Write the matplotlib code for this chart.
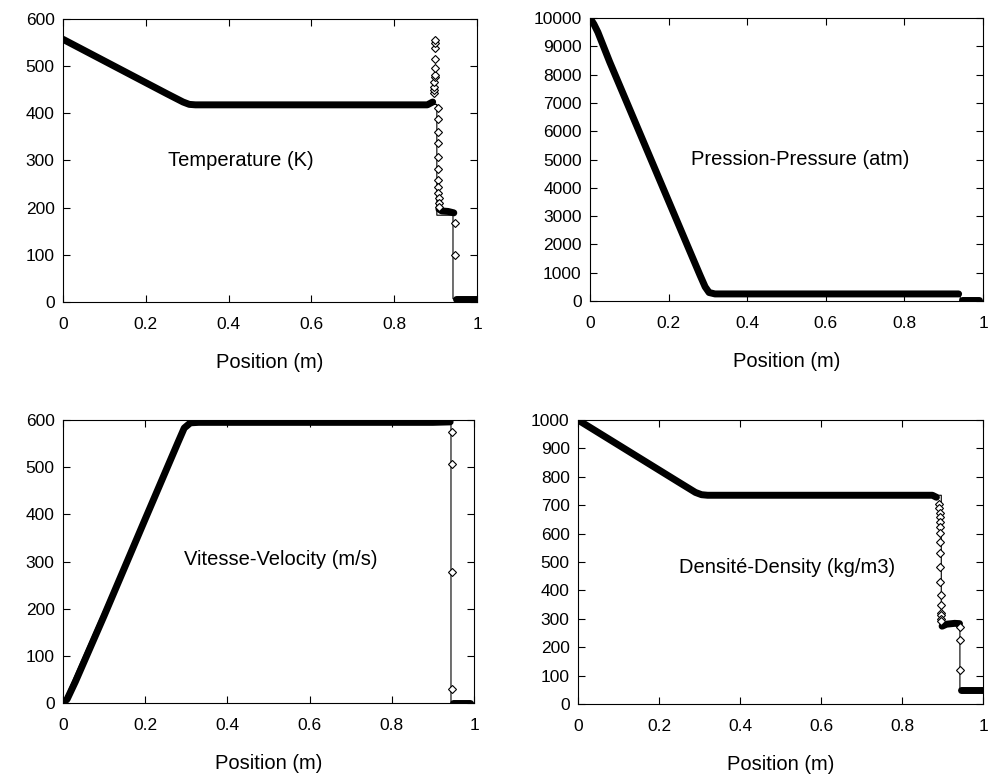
import matplotlib
matplotlib.use("Agg")
import matplotlib.pyplot as plt

plt.rcParams['font.family'] = ['Liberation Sans', 'DejaVu Sans']

# ---------------- Temperature (K) ----------------
T_exact_x = [0.0, 0.30, 0.903, 0.903, 0.942, 0.942, 1.0]
T_exact_y = [557, 419, 419, 184, 184, 7, 7]
T_band1_x = [0.0, 0.05, 0.10, 0.15, 0.20, 0.25, 0.29, 0.305, 0.32, 0.50, 0.70, 0.88, 0.893]
T_band1_y = [557, 534, 511, 488, 465, 442, 424, 419, 418, 418, 418, 418, 424]
T_band2_x = [0.908, 0.915, 0.93, 0.944]
T_band2_y = [197, 193, 192, 189]
T_band3_x = [0.949, 0.97, 1.0]
T_band3_y = [7, 7, 7]
T_mk_x = [0.896, 0.896, 0.897, 0.897, 0.898, 0.898, 0.898, 0.899, 0.899, 0.899, 0.899,
          0.905, 0.905, 0.906, 0.906, 0.906, 0.907, 0.907, 0.907, 0.907, 0.908, 0.908, 0.908,
          0.947, 0.947]
T_mk_y = [443, 449, 456, 466, 477, 481, 496, 515, 538, 549, 555,
          411, 388, 360, 337, 307, 282, 259, 244, 231, 220, 210, 201,
          167, 100]

# ---------------- Pressure (atm) ----------------
P_exact_x = [0.0, 0.05, 0.10, 0.15, 0.20, 0.25, 0.28, 0.30, 0.942, 0.942, 1.0]
P_exact_y = [10000, 8450, 6810, 5170, 3530, 1890, 910, 250, 250, 5, 5]
P_band1_x = [0.0, 0.01, 0.02, 0.05, 0.10, 0.15, 0.20, 0.25, 0.28, 0.293, 0.303, 0.318, 0.5, 0.7, 0.9, 0.938]
P_band1_y = [10000, 9780, 9500, 8450, 6810, 5170, 3530, 1890, 910, 500, 300, 250, 250, 250, 250, 250]
P_band2_x = [0.946, 0.97, 0.99]
P_band2_y = [30, 30, 30]

# ---------------- Velocity (m/s) ----------------
V_exact_x = [0.0, 0.30, 0.944, 0.944, 1.0]
V_exact_y = [0, 593, 593, 0, 0]
V_band1_x = [0.0, 0.01, 0.03, 0.10, 0.20, 0.28, 0.295, 0.31, 0.33, 0.6, 0.9, 0.942]
V_band1_y = [0, 8, 45, 185, 390, 553, 583, 594, 595, 595, 595, 596]
V_band2_x = [0.949, 0.97, 0.99]
V_band2_y = [0, 0, 0]
V_mk_x = [0.946, 0.946, 0.946, 0.946]
V_mk_y = [574, 507, 278, 30]

# ---------------- Density (kg/m3) ----------------
D_exact_x = [0.0, 0.30, 0.897, 0.897, 0.943, 0.943, 1.0]
D_exact_y = [1000, 735, 735, 280, 280, 50, 50]
D_band1_x = [0.0, 0.05, 0.10, 0.15, 0.20, 0.25, 0.29, 0.305, 0.32, 0.6, 0.875, 0.885]
D_band1_y = [1000, 956, 912, 868, 824, 780, 745, 737, 735, 735, 735, 728]
D_band2_x = [0.899, 0.91, 0.93, 0.942]
D_band2_y = [274, 281, 284, 283]
D_band3_x = [0.946, 0.97, 1.0]
D_band3_y = [50, 50, 50]
D_mk_x = [0.892, 0.892, 0.893, 0.893, 0.893, 0.894, 0.894, 0.894, 0.895, 0.895, 0.895,
          0.896, 0.896, 0.896, 0.897, 0.897, 0.897, 0.943, 0.943, 0.943]
D_mk_y = [704, 690, 672, 658, 641, 623, 602, 570, 531, 482, 429,
          383, 347, 322, 312, 301, 294, 270, 224, 118]

panels = [
    dict(pos=[63/988, 1-302/775, 414/988, 283/775], ylim=(0, 600), yticks=range(0, 601, 100),
         exact=(T_exact_x, T_exact_y), bands=[(T_band1_x, T_band1_y), (T_band2_x, T_band2_y), (T_band3_x, T_band3_y)],
         marks=(T_mk_x, T_mk_y), label="Temperature (K)", lpos=(0.43, 300)),
    dict(pos=[590/988, 1-301/775, 393/988, 283/775], ylim=(0, 10000), yticks=range(0, 10001, 1000),
         exact=(P_exact_x, P_exact_y), bands=[(P_band1_x, P_band1_y), (P_band2_x, P_band2_y)],
         marks=None, label="Pression-Pressure (atm)", lpos=(0.535, 5000)),
    dict(pos=[63/988, 1-703/775, 411/988, 283/775], ylim=(0, 600), yticks=range(0, 601, 100),
         exact=(V_exact_x, V_exact_y), bands=[(V_band1_x, V_band1_y), (V_band2_x, V_band2_y)],
         marks=(V_mk_x, V_mk_y), label="Vitesse-Velocity (m/s)", lpos=(0.53, 305)),
    dict(pos=[578/988, 1-704/775, 405/988, 284/775], ylim=(0, 1000), yticks=range(0, 1001, 100),
         exact=(D_exact_x, D_exact_y), bands=[(D_band1_x, D_band1_y), (D_band2_x, D_band2_y), (D_band3_x, D_band3_y)],
         marks=(D_mk_x, D_mk_y), label="Densité-Density (kg/m3)", lpos=(0.515, 480)),
]

xticks = [0, 0.2, 0.4, 0.6, 0.8, 1]
xticklabels = ["0", "0.2", "0.4", "0.6", "0.8", "1"]

fig = plt.figure(figsize=(9.88, 7.75), dpi=100)
for p in panels:
    ax = fig.add_axes(p['pos'])
    ex, ey = p['exact']
    ax.plot(ex, ey, color='black', lw=0.8, zorder=2)
    for bx, by in p['bands']:
        ax.plot(bx, by, color='black', lw=5, solid_capstyle='round', solid_joinstyle='round', zorder=3)
    if p['marks'] is not None:
        mx, my = p['marks']
        ax.plot(mx, my, linestyle='none', marker='D', ms=4.5, mfc='white', mec='black', mew=0.8, zorder=4)
    ax.set_xlim(0, 1)
    ax.set_ylim(*p['ylim'])
    ax.set_xticks(xticks)
    ax.set_xticklabels(xticklabels)
    ax.set_yticks(list(p['yticks']))
    ax.tick_params(direction='in', length=5, width=0.8, top=True, right=True, labelsize=12.5)
    ax.tick_params(axis='x', pad=11)
    ax.tick_params(axis='y', pad=6)
    for s in ax.spines.values():
        s.set_linewidth(0.8)
    ax.set_xlabel("Position (m)", fontsize=14.5, labelpad=15)
    ax.text(p['lpos'][0], p['lpos'][1], p['label'], fontsize=14.5, ha='center', va='center')

fig.savefig("out.png", dpi=100)
